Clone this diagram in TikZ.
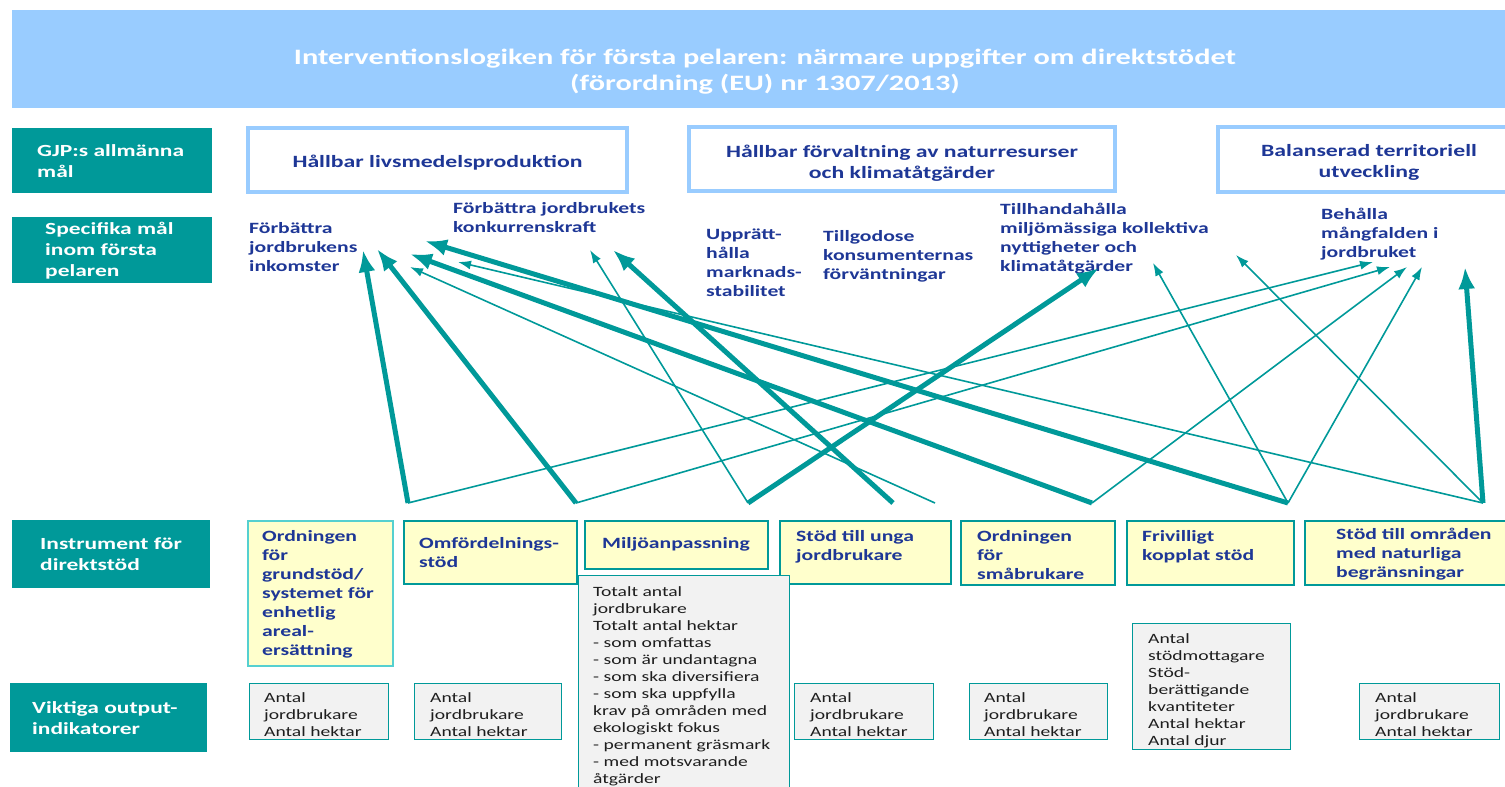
\documentclass[tikz,border=0pt]{standalone}
\usepackage{fontspec}
\setmainfont{Carlito}[FakeStretch=1.38]
\usepackage{tikz}
\usetikzlibrary{arrows.meta, positioning}
\definecolor{ILteal}{RGB}{0,153,153}
\definecolor{ILcyan}{RGB}{85,208,208}
\definecolor{ILsky}{RGB}{153,204,255}
\definecolor{ILnavy}{RGB}{30,55,150}
\definecolor{ILcream}{RGB}{255,255,204}
\definecolor{ILgrey}{RGB}{242,242,242}
\definecolor{ILink}{RGB}{30,30,30}
\newcommand{\antalout}{Antal\\jordbrukare\\Antal hektar}
\tikzset{rowbox/.style={fill=ILteal, anchor=north west, inner sep=0pt}}
\tikzset{rowtext/.style={text=white, font=\bfseries\fontsize{17}{21}\selectfont, align=left, inner sep=0pt}}
\tikzset{goaltext/.style={text=ILnavy, font=\bfseries\fontsize{17.2}{21}\selectfont, align=center, inner sep=0pt}}
\tikzset{goalbox/.style={draw=ILsky, line width=3.5pt, fill=white, inner sep=0pt}}
\tikzset{objtext/.style={text=ILnavy, font=\bfseries\fontsize{15.7}{19}\selectfont, align=left, anchor=base west, inner sep=0pt}}
\tikzset{instbox/.style={draw=ILteal, line width=1.8pt, fill=ILcream, anchor=north west, inner sep=0pt}}
\tikzset{insttext/.style={text=ILnavy, font=\bfseries\fontsize{15.7}{19}\selectfont, align=left, inner sep=0pt}}
\tikzset{outbox/.style={draw=ILteal, line width=1pt, fill=ILgrey, anchor=north west, inner sep=0pt}}
\tikzset{outtext/.style={text=ILink, font=\fontsize{14.2}{17}\selectfont, align=left, inner sep=0pt}}
\tikzset{thin link/.style={draw=ILteal, line width=1.6pt, -{Latex[length=13pt,width=9pt]}}}
\tikzset{thick link/.style={draw=ILteal, line width=5pt, -{Latex[length=22pt,width=17pt]}}}

\begin{document}
\begin{tikzpicture}[x=1pt, y=-1pt]
        \useasboundingbox (0,0) rectangle (1505,787);
        \clip (0,0) rectangle (1505,787);

        % title banner
        \node (banner) at (12,10) [fill=ILsky, anchor=north west, minimum width=1500pt, minimum height=98pt, inner sep=0pt] {};
        \node (title) at (765,71.5) [text=white, font=\bfseries\fontsize{22}{26}\selectfont, align=center, inner sep=0pt] {Interventionslogiken för första pelaren: närmare uppgifter om direktstödet\\(förordning (EU) nr 1307/2013)};

        % row headings
        \node (gjp) at (12,128) [rowbox, minimum width=200pt, minimum height=65pt] {};
        \node (gjpt) [rowtext, right=25pt of gjp.west] {GJP:s allmänna\\mål};
        \node (spec) at (12,217) [rowbox, minimum width=200pt, minimum height=66pt] {};
        \node (spect) [rowtext, right=33pt of spec.west] {Specifika mål\\inom första\\pelaren};
        \node (instr) at (12,520) [rowbox, minimum width=198pt, minimum height=68pt] {};
        \node (instrt) [rowtext, right=28pt of instr.west] {Instrument för\\direktstöd};
        \node (outp) at (10,683) [rowbox, minimum width=197pt, minimum height=69pt] {};
        \node (outpt) [rowtext, right=22pt of outp.west] {Viktiga output-\\indikatorer};

        % general objectives
        \node (goal1) at (437.5,160) [goalbox, minimum width=379pt, minimum height=64pt] {};
        \node (goal1t) at (437.5,163) [goaltext] {Hållbar livsmedelsproduktion};
        \node (goal2) at (902,159) [goalbox, minimum width=426pt, minimum height=64pt] {};
        \node (goal2t) at (902,163) [goaltext] {Hållbar förvaltning av naturresurser\\och klimatåtgärder};
        \node (goal3) at (1369,159.5) [goalbox, minimum width=302pt, minimum height=65pt] {};
        \node (goal3t) at (1369,162) [goaltext] {Balanserad territoriell\\utveckling};

        % specific objectives (placed at the baseline of the last line)
        \node (obj1) at (249,271) [objtext] {Förbättra\\jordbrukens\\inkomster};
        \node (obj2) at (453,232) [objtext] {Förbättra jordbrukets\\konkurrenskraft};
        \node (obj3) at (706,296) [objtext] {Upprätt-\\hålla\\marknads-\\stabilitet};
        \node (obj4) at (823,279) [objtext] {Tillgodose\\konsumenternas\\förväntningar};
        \node (obj5) at (1000,271) [objtext] {Tillhandahålla\\miljömässiga kollektiva\\nyttigheter och\\klimatåtgärder};
        \node (obj6) at (1321,257) [objtext] {Behålla\\mångfalden i\\jordbruket};

        % instruments
        \node (inst1) at (247,520) [instbox, draw=ILcyan, minimum width=145pt, minimum height=145pt] {};
        \node (inst1t) [insttext, below right=10pt and 15pt of inst1.north west] {Ordningen\\för\\grundstöd/\\systemet för\\enhetlig\\areal-\\ersättning};
        \node (inst2) at (403,520) [instbox, minimum width=173pt, minimum height=63pt] {};
        \node (inst2t) [insttext, below right=17pt and 16pt of inst2.north west] {Omfördelnings-\\stöd};
        \node (inst3) at (584,520) [instbox, minimum width=183pt, minimum height=48pt] {};
        \node (inst3t) [insttext, below right=17pt and 18pt of inst3.north west] {Miljöanpassning};
        \node (inst4) at (779,520) [instbox, minimum width=171pt, minimum height=63pt] {};
        \node (inst4t) [insttext, below right=10pt and 17pt of inst4.north west] {Stöd till unga\\jordbrukare};
        \node (inst5) at (960,520) [instbox, minimum width=154pt, minimum height=64pt] {};
        \node (inst5t) [insttext, below right=10pt and 17pt of inst5.north west] {Ordningen\\för\\småbrukare};
        \node (inst6) at (1126,520) [instbox, minimum width=167pt, minimum height=64pt] {};
        \node (inst6t) [insttext, below right=10pt and 16pt of inst6.north west] {Frivilligt\\kopplat stöd};
        \node (inst7) at (1304,520) [instbox, minimum width=210pt, minimum height=64pt] {};
        \node (inst7t) [insttext, below right=8pt and 32pt of inst7.north west] {Stöd till områden\\med naturliga\\begränsningar};

        % output indicators
        \node (out1) at (249,683) [outbox, minimum width=139pt, minimum height=56pt] {};
        \node (out1t) [outtext, below right=9pt and 15pt of out1.north west] {\antalout};
        \node (out2) at (414,683) [outbox, minimum width=147pt, minimum height=56pt] {};
        \node (out2t) [outtext, below right=9pt and 16pt of out2.north west] {\antalout};
        \node (out3) at (578,575) [outbox, minimum width=211pt, minimum height=225pt] {};
        \node (out3t) [outtext, below right=11pt and 15pt of out3.north west] {Totalt antal\\jordbrukare\\Totalt antal hektar\\- som omfattas\\- som är undantagna\\- som ska diversifiera\\- som ska uppfylla\\krav på områden med\\ekologiskt fokus\\- permanent gräsmark\\- med motsvarande\\åtgärder};
        \node (out4) at (794,683) [outbox, minimum width=139pt, minimum height=56pt] {};
        \node (out4t) [outtext, below right=9pt and 16pt of out4.north west] {\antalout};
        \node (out5) at (969,683) [outbox, minimum width=138pt, minimum height=56pt] {};
        \node (out5t) [outtext, below right=9pt and 15pt of out5.north west] {\antalout};
        \node (out6) at (1132,623) [outbox, minimum width=158pt, minimum height=126pt] {};
        \node (out6t) [outtext, below right=10pt and 16pt of out6.north west] {Antal\\stödmottagare\\Stöd-\\berättigande\\kvantiteter\\Antal hektar\\Antal djur};
        \node (out7) at (1359,683) [outbox, minimum width=140pt, minimum height=56pt] {};
        \node (out7t) [outtext, below right=9pt and 16pt of out7.north west] {\antalout};

        % link ends
        \coordinate (src1) at (408,503);
        \coordinate (src2) at (576,503);
        \coordinate (src3) at (748,503);
        \coordinate (src4) at (893,503);
        \coordinate (src5) at (935,503);
        \coordinate (src6) at (1092,503);
        \coordinate (src7) at (1288,503);
        \coordinate (src8) at (1483,503);

        \coordinate (inc1) at (363,250);
        \coordinate (inc2) at (377,249);
        \coordinate (inc3) at (410,254);
        \coordinate (inc4) at (410,267);
        \coordinate (kon1) at (425,241);
        \coordinate (kon2) at (458,262);
        \coordinate (kon3) at (590,250);
        \coordinate (kon4) at (613,250);
        \coordinate (env1) at (1099,268);
        \coordinate (env2) at (1153,263);
        \coordinate (div1) at (1236,255);
        \coordinate (div2) at (1373,262);
        \coordinate (div3) at (1390,267);
        \coordinate (div4) at (1407,267);
        \coordinate (div5) at (1422,267);
        \coordinate (div6) at (1465,267);

        % links
        \draw[thick link] (src1) -- (inc1);
        \draw[thin link] (src1) -- (div2);
        \draw[thick link] (src2) -- (inc2);
        \draw[thin link] (src2) -- (div3);
        \draw[thin link] (src3) -- (kon3);
        \draw[thick link] (src3) -- (env1);
        \draw[thick link] (src4) -- (kon4);
        \draw[thin link] (src5) -- (inc4);
        \draw[thick link] (src6) -- (inc3);
        \draw[thin link] (src6) -- (div4);
        \draw[thick link] (src7) -- (kon1);
        \draw[thin link] (src7) -- (env2);
        \draw[thin link] (src7) -- (div5);
        \draw[thin link] (src8) -- (kon2);
        \draw[thin link] (src8) -- (div1);
        \draw[thick link] (src8) -- (div6);

\end{tikzpicture}
\end{document}
